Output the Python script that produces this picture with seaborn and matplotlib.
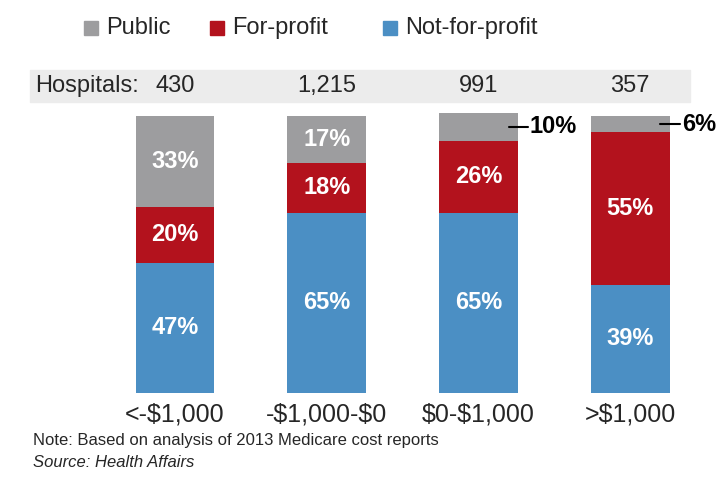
import matplotlib.pyplot as plt
import matplotlib.patches as mpatches
import pandas as pd
import seaborn as sns

categories = ["<-$1,000", "-$1,000-$0", "$0-$1,000", ">$1,000"]
hospitals = ["430", "1,215", "991", "357"]
not_for_profit = [47, 65, 65, 39]
for_profit = [20, 18, 26, 55]
public = [33, 17, 10, 6]

C_PUB, C_FOR, C_NFP = "#9d9d9f", "#b3121d", "#4b8fc4"

sns.set_theme(style="white")
plt.rcParams["font.family"] = ["Liberation Sans", "DejaVu Sans"]
plt.rcParams["text.parse_math"] = False

df = pd.DataFrame({"cat": categories, "nfp": not_for_profit, "fp": for_profit, "pub": public})
df["nfp_fp"] = df["nfp"] + df["fp"]
df["total"] = df["nfp_fp"] + df["pub"]

fig = plt.figure(figsize=(7.2, 4.98), dpi=100)
ax = fig.add_axes([30 / 720, 105 / 498, 660 / 720, 280 / 498])
for col, c in [("total", C_PUB), ("nfp_fp", C_FOR), ("nfp", C_NFP)]:
    sns.barplot(data=df, x="cat", y=col, color=c, width=0.52, saturation=1,
                linewidth=0, ax=ax)
ax.set_xlim(-0.956, 3.395)
ax.set_ylim(0, 101)
ax.axis("off")

wk = dict(color="white", fontsize=17, fontweight="bold", ha="center", va="center")
for i in range(4):
    ax.text(i, not_for_profit[i] / 2, f"{not_for_profit[i]}%", **wk)
    ax.text(i, not_for_profit[i] + for_profit[i] / 2, f"{for_profit[i]}%", **wk)
    if public[i] >= 15:
        ax.text(i, df["nfp_fp"][i] + public[i] / 2, f"{public[i]}%", **wk)
    else:
        y = df["nfp_fp"][i] + public[i] / 2
        ax.plot([i + 0.2, i + 0.33], [y, y], color="black", lw=1.5, clip_on=False)
        ax.text(i + 0.34, y, f"{public[i]}%", color="black", fontsize=17,
                fontweight="bold", ha="left", va="center")
    ax.text(i, -3.5, categories[i], fontsize=18, ha="center", va="top", clip_on=False)

# hospitals band
fig.patches.append(mpatches.Rectangle((30 / 720, 1 - 102 / 498), 660 / 720, 32 / 498,
                                      transform=fig.transFigure, color="#ececec", zorder=0))
fig.text(35 / 720, 1 - 86 / 498, "Hospitals:", fontsize=17, va="center")
for i, h in enumerate(hospitals):
    xf = (30 + (i + 0.956) * 151.7) / 720
    fig.text(xf, 1 - 86 / 498, h, fontsize=17, ha="center", va="center")

# legend
for x0, c, lab in [(84, C_PUB, "Public"), (210, C_FOR, "For-profit"), (383, C_NFP, "Not-for-profit")]:
    fig.patches.append(mpatches.Rectangle((x0 / 720, 1 - 35 / 498), 14 / 720, 14 / 498,
                                          transform=fig.transFigure, color=c))
    fig.text((x0 + 22) / 720, 1 - 28 / 498, lab, fontsize=17, va="center")

fig.text(33 / 720, 1 - 440 / 498, "Note: Based on analysis of 2013 Medicare cost reports",
         fontsize=12, va="center")
fig.text(33 / 720, 1 - 462 / 498, "Source: Health Affairs", fontsize=12,
         style="italic", va="center")

fig.savefig("out.png", dpi=100)
